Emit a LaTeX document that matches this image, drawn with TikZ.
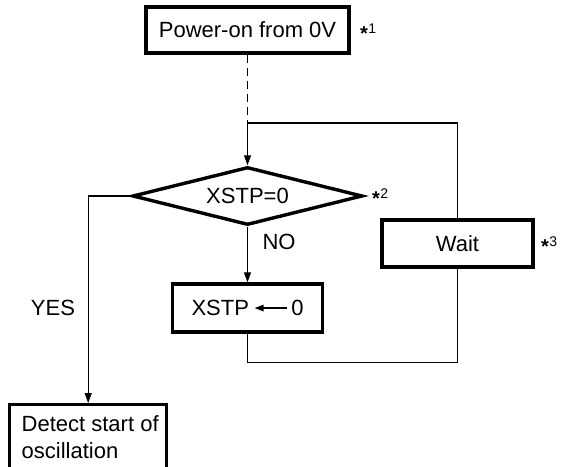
\documentclass[tikz,border=0pt]{standalone}
\usepackage{fontspec}
\setmainfont{Liberation Sans}
\usetikzlibrary{arrows.meta,shapes.geometric}
\newcommand{\starnote}[1]{\raisebox{-7pt}{\fontsize{20}{20}\selectfont\bfseries *}\hspace{0.5pt}{\fontsize{14}{14}\selectfont #1}}
\begin{document}
\begin{tikzpicture}[x=1pt,y=-1pt,
  txt/.style={font=\fontsize{22}{27}\selectfont, inner sep=0pt},
  boxnode/.style={txt, draw, line width=3.4pt},
  thinline/.style={line width=1.3pt},
  arr/.style={thinline, -{Triangle[length=10pt,width=7pt]}},
  note/.style={inner sep=0pt, anchor=base west}]
\useasboundingbox (0,0) rectangle (562,466);

\node[boxnode, minimum width=203pt, minimum height=46pt] (pw) at (247.5,30) {Power-on from 0V};
\node[boxnode, shape=diamond, aspect=3.97, minimum width=230pt, minimum height=58pt] (dm) at (247.5,196) {XSTP=0};
\node[boxnode, minimum width=150pt, minimum height=48pt] (xs) at (247.5,308)
  {XSTP\hspace{5pt}\tikz[baseline]{\draw[line width=1.3pt,-{Triangle[length=9pt,width=6.5pt]}] (32pt,7.5pt) -- (0pt,7.5pt);}\hspace{4pt}0};
\node[boxnode, minimum width=151pt, minimum height=47pt] (wt) at (457.5,243.5) {Wait};
\node[boxnode, anchor=north west, inner xsep=0pt, inner ysep=11pt] (dt) at (8,403)
  {\parbox[t][90pt][t]{157pt}{\raggedright\leftskip=12pt\relax Detect start of\\oscillation}};

\coordinate (j) at (247.5,123);

\node[txt] (no) at (279,242) {NO};
\node[txt] (yes) at (53,308) {YES};
\node[note] (n1) at (360,33) {\starnote{1}};
\node[note] (n2) at (372,198) {\starnote{2}};
\node[note] (n3) at (541,246) {\starnote{3}};

\draw[thinline, dash pattern=on 8pt off 5pt] (pw.south) -- (j);
\draw[arr] (j) -- (dm.north);
\draw[arr] (dm.west) -| (dt.north);
\draw[arr] (dm.south) -- (xs.north);
\draw[thinline] (xs.south) -- ++(0,29) -| (wt.south);
\draw[thinline] (wt.north) |- (j);
\end{tikzpicture}
\end{document}
